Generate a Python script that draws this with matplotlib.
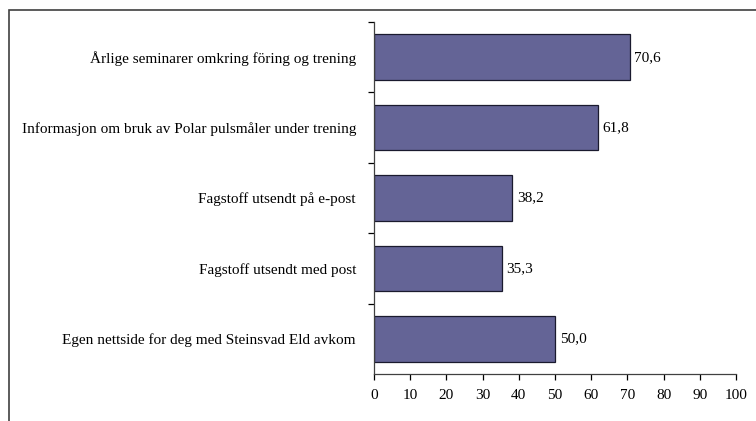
import matplotlib.pyplot as plt
from matplotlib.patches import Rectangle

# data, top to bottom
kategorier = [
    'Årlige seminarer omkring föring og trening',
    'Informasjon om bruk av Polar pulsmåler under trening',
    'Fagstoff utsendt på e-post',
    'Fagstoff utsendt med post',
    'Egen nettside for deg med Steinsvad Eld avkom',
]
verdier = [70.6, 61.8, 38.2, 35.3, 50.0]
x_ticks = [0, 10, 20, 30, 40, 50, 60, 70, 80, 90, 100]

plt.rcParams['font.family'] = ['Liberation Serif', 'DejaVu Serif']

fig = plt.figure(figsize=(7.56, 4.21), dpi=100)
ax = fig.add_axes([374 / 756, 1 - 374 / 421, 362 / 756, 352 / 421])

# ramme rundt diagrammet
fig.patches.append(Rectangle((9 / 756, -0.1), 1.2, 1 - 10 / 421 + 0.1,
                             transform=fig.transFigure, fill=False,
                             edgecolor='#404040', linewidth=1.2))

pos = list(range(len(kategorier)))[::-1]
ax.barh(pos, verdier, height=0.65, color='#646496', edgecolor='#1a1a2e', linewidth=0.9)

for p, v in zip(pos, verdier):
    ax.text(v + 1.3, p, f'{v:.1f}'.replace('.', ','), va='center', ha='left', fontsize=11)

ax.set_xlim(0, 100)
ax.set_ylim(-0.5, len(kategorier) - 0.5)
ax.set_xticks(x_ticks)
ax.set_yticks(pos)
ax.set_yticklabels(kategorier, fontsize=11)
ax.set_yticks([p + 0.5 for p in range(len(kategorier))], minor=True)
ax.tick_params(axis='y', which='major', length=0, pad=13)
ax.tick_params(axis='y', which='minor', length=4, width=0.9)
ax.tick_params(axis='x', length=4, width=0.9, labelsize=11, pad=7)

for s in ['top', 'right']:
    ax.spines[s].set_visible(False)
for s in ['left', 'bottom']:
    ax.spines[s].set_color('#404040')
    ax.spines[s].set_linewidth(0.9)

fig.savefig('out.png', dpi=100)
